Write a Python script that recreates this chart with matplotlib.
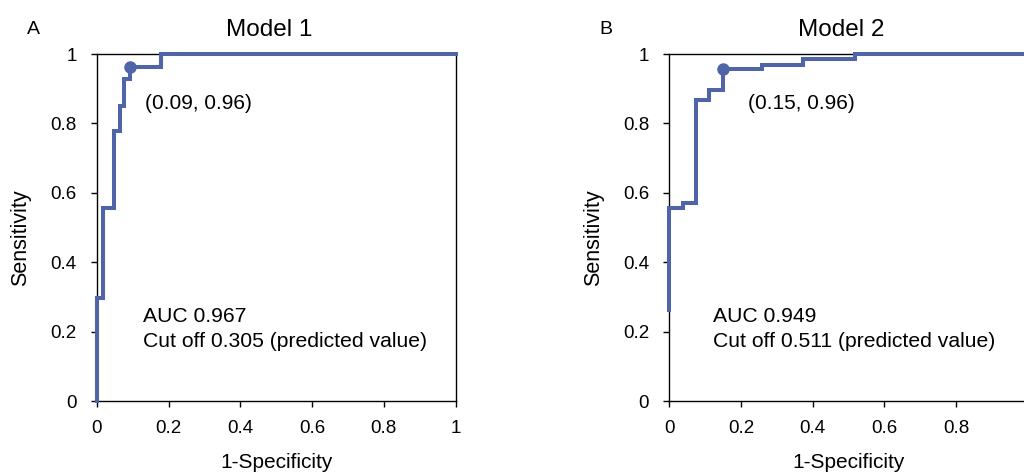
import matplotlib
matplotlib.use("Agg")
import matplotlib.pyplot as plt

plt.rcParams['font.family'] = ['Liberation Sans', 'DejaVu Sans']

# Model 1 ROC steps (1-specificity, sensitivity)
fpr1 = [0.0, 0.0, 0.016, 0.016, 0.048, 0.048, 0.064, 0.064, 0.076, 0.076, 0.092, 0.092, 0.178, 0.178, 1.0]
tpr1 = [0.0, 0.297, 0.297, 0.556, 0.556, 0.779, 0.779, 0.851, 0.851, 0.927, 0.927, 0.963, 0.963, 1.0, 1.0]
cut1 = (0.092, 0.963)

# Model 2 ROC steps
fpr2 = [0.0, 0.0, 0.037, 0.037, 0.074, 0.074, 0.112, 0.112, 0.151, 0.151, 0.259, 0.259, 0.372, 0.372, 0.518, 0.518, 1.0]
tpr2 = [0.262, 0.557, 0.557, 0.572, 0.572, 0.867, 0.867, 0.896, 0.896, 0.956, 0.956, 0.968, 0.968, 0.986, 0.986, 1.0, 1.0]
cut2 = (0.151, 0.956)

ticks = [0, 0.2, 0.4, 0.6, 0.8, 1]
tick_labels = ['0', '0.2', '0.4', '0.6', '0.8', '1']

panels = [
    ("A", "Model 1", fpr1, tpr1, cut1, "(0.09, 0.96)", "AUC 0.967\nCut off 0.305 (predicted value)"),
    ("B", "Model 2", fpr2, tpr2, cut2, "(0.15, 0.96)", "AUC 0.949\nCut off 0.511 (predicted value)"),
]

W, H = 1024, 473
fig = plt.figure(figsize=(W / 100, H / 100), dpi=100)
color = '#4f65a8'


def fx(px):
    return px / W


def fy(py):
    return 1 - py / H


# pixel layout of the two plot areas
lefts = [97, 669.3]
width = 358.5
top, bottom = 54, 401
cut_txt_x = [0.134, 0.22]
auc_txt_x = [0.127, 0.123]

for i, (letter, title, xs, ys, cut, cut_txt, auc_txt) in enumerate(panels):
    left = lefts[i]
    ax = fig.add_axes([fx(left), fy(bottom), width / W, (bottom - top) / H])
    ax.plot(xs, ys, color=color, lw=2.9, clip_on=False, zorder=3, solid_joinstyle='miter')
    ax.plot([cut[0]], [cut[1]], 'o', color=color, ms=8, clip_on=False, zorder=4)
    ax.set_xlim(0, 1)
    ax.set_ylim(0, 1)
    ax.set_xticks(ticks)
    ax.set_yticks(ticks)
    ax.set_yticklabels(tick_labels)
    if i == 1:
        ax.set_xticklabels(tick_labels[:-1] + [''])
    else:
        ax.set_xticklabels(tick_labels)
    ax.tick_params(direction='out', length=4.5, width=1, labelsize=13.5, color='black')
    ax.tick_params(axis='y', pad=10)
    ax.tick_params(axis='x', pad=9.5)
    for s in ax.spines.values():
        s.set_linewidth(1)

    ax.text(cut_txt_x[i], 0.856, cut_txt, fontsize=15, transform=ax.transAxes, va='center')
    ax.text(auc_txt_x[i], 0.208, auc_txt, fontsize=15.2, transform=ax.transAxes, va='center',
            linespacing=1.37)

    cx = left + width / 2
    fig.text(fx(cx - 7), fy(35.5), title, fontsize=17.5, ha='center', va='baseline')
    fig.text(fx(left - 70), fy(34.5), letter, fontsize=14, ha='left', va='baseline')
    fig.text(fx(cx), fy(462), '1-Specificity', fontsize=15, ha='center', va='center')
    fig.text(fx(left - 76), fy(238), 'Sensitivity', fontsize=15.5, ha='center', va='center',
             rotation=90)

fig.savefig('out.png', dpi=100)
